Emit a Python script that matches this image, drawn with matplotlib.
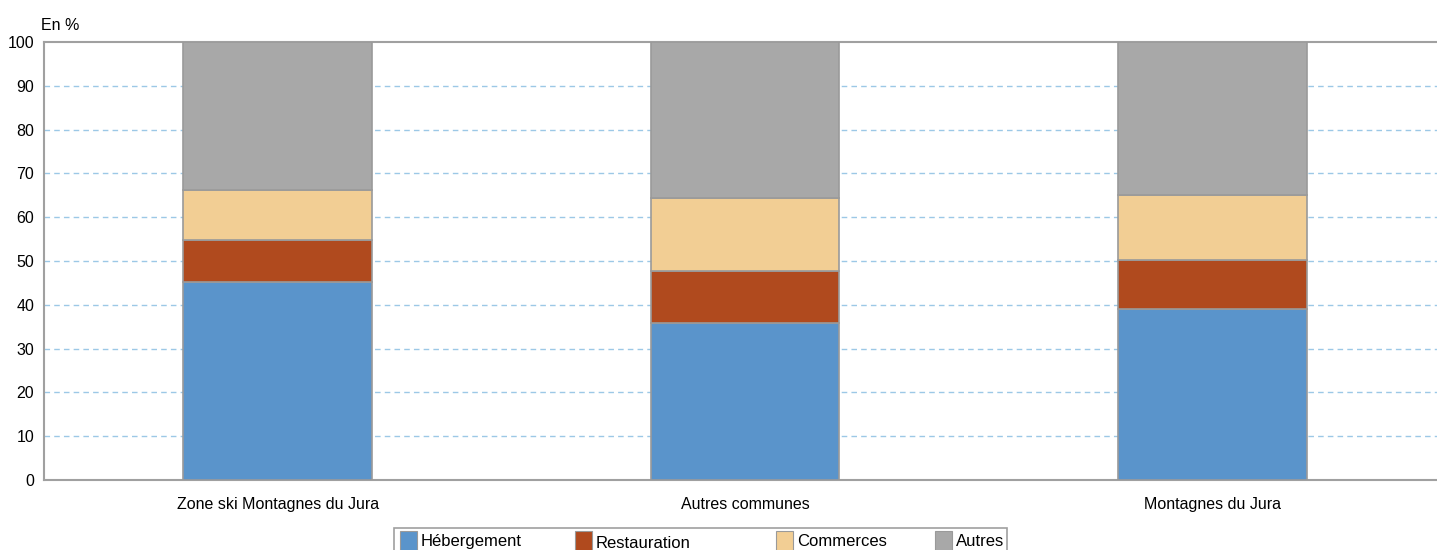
import matplotlib
matplotlib.use("Agg")
import matplotlib.pyplot as plt
from matplotlib.patches import Rectangle
import numpy as np

plt.rcParams['font.family'] = ['Liberation Sans', 'DejaVu Sans']

categories = ["Zone ski Montagnes du Jura", "Autres communes", "Montagnes du Jura"]
series_names = ["Hébergement", "Restauration", "Commerces", "Autres"]
hebergement = [45.2, 35.8, 39.0]
restauration = [9.6, 11.9, 11.2]
commerces = [11.4, 16.7, 14.9]
autres = [33.8, 35.6, 34.9]
colors = ["#5A94CB", "#B04A1E", "#F2CE94", "#A8A8A8"]
yticks = [0, 10, 20, 30, 40, 50, 60, 70, 80, 90, 100]

W, H = 1437, 550
fig = plt.figure(figsize=(W / 100, H / 100), dpi=100)
ax = fig.add_axes([44 / W, 70 / H, (1446 - 44) / W, (480 - 42) / H])

x = np.arange(len(categories))
bottom = np.zeros(len(categories))
for vals, name, col in zip([hebergement, restauration, commerces, autres], series_names, colors):
    ax.bar(x, vals, width=0.403, bottom=bottom, color=col, edgecolor="#9a9a9a",
           linewidth=1.2, label=name, zorder=3)
    bottom = bottom + np.array(vals)

ax.set_xlim(-0.5, 2.5)
ax.set_ylim(0, 100)
ax.set_yticks(yticks)
ax.set_yticklabels([str(t) for t in yticks], fontsize=11.5)
ax.set_xticks(x)
ax.set_xticklabels(categories, fontsize=11.5)
ax.tick_params(axis='both', length=0, pad=7)
ax.tick_params(axis='x', pad=12)
for yv in yticks[1:-1]:
    ax.axhline(yv, color="#9cc8e6", linestyle=(0, (4, 3)), linewidth=1.0, zorder=1)

for s in ["top", "left", "bottom"]:
    ax.spines[s].set_color("#a0a0a0")
    ax.spines[s].set_linewidth(1.5)
ax.spines["right"].set_visible(False)

fig.text(41 / W, 1 - 26 / H, "En %", fontsize=11.5, ha="left", va="center")

# manual legend (frame runs past the bottom edge, as in the reference)
fig.patches.append(Rectangle((394 / W, -6 / H), (1007 - 394) / W, (550 - 528 + 6) / H,
                             transform=fig.transFigure, facecolor="white",
                             edgecolor="#a0a0a0", linewidth=1.2, zorder=5))
patch_x = [400, 575, 776, 935]
text_dy = [0, -1.5, 0, 0]
for px, dy, name, col in zip(patch_x, text_dy, series_names, colors):
    fig.patches.append(Rectangle((px / W, -6 / H), 17 / W, (550 - 531 + 6) / H,
                                 transform=fig.transFigure, facecolor=col,
                                 edgecolor="#9a9a9a", linewidth=0.8, zorder=6))
    fig.text((px + 21) / W, (4 + dy) / H, name, fontsize=12, ha="left",
             va="baseline", zorder=7)

fig.savefig("out.png", dpi=100)
